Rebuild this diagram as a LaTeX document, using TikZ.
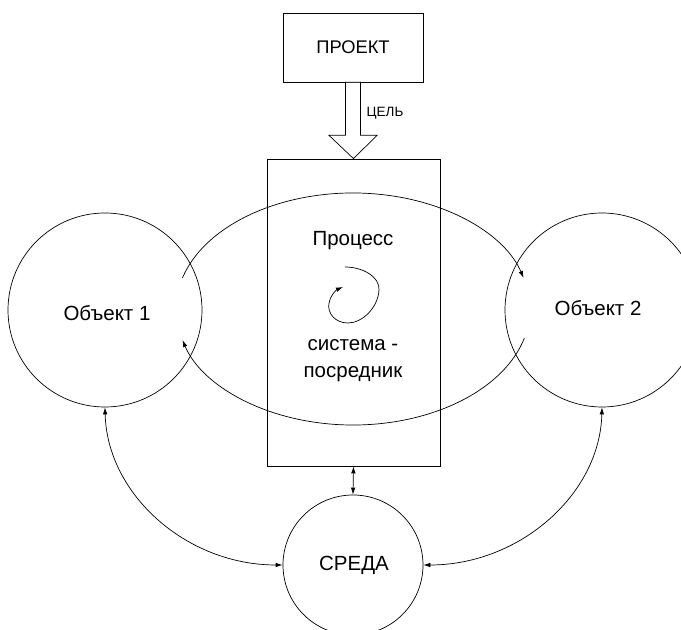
\documentclass[tikz,border=0pt]{standalone}
\usepackage{fontspec}
\setmainfont{Liberation Sans}
\usetikzlibrary{arrows.meta,calc}
\begin{document}
\begin{tikzpicture}[x=1pt,y=1pt,
  line width=0.7pt,
  tip/.style={-{Latex[length=7pt,width=4.5pt]}},
  dtip/.style={{Latex[length=7pt,width=4.5pt]}-{Latex[length=7pt,width=4.5pt]}},
  txt/.style={font=\fontsize{20.5}{27}\selectfont, align=center},
  circ/.style={draw, circle, inner sep=0pt}]
\useasboundingbox (0,0) rectangle (681,630);
\begin{scope}
\clip (0,0) rectangle (681,630);
% nodes
\node[draw, minimum width=140pt, minimum height=69pt, inner sep=0pt, font=\fontsize{18.3}{22}\selectfont] (proj) at (353,582.5) {ПРОЕКТ};
\node[draw, minimum width=173pt, minimum height=307pt, inner sep=0pt] (sys) at (353.5,317.5) {};
\node[circ, minimum size=194pt] (o1) at (105,320) {};
\node[circ, minimum size=194pt] (o2) at (602,320) {};
\node[circ, minimum size=140pt] (env) at (353,65) {};
\node[txt] (o1t) at (107,317) {Объект 1};
\node[txt] (o2t) at (598,322) {Объект 2};
\node[txt] (envt) at (354,65) {СРЕДА};
\node[txt] (proc) at (353,389) {Процесс};
\node[txt] (sp) at (353,269) {система -\\посредник};
\node[font=\fontsize{13.5}{16}\selectfont, anchor=west] (goal) at (363,517) {ЦЕЛЬ};
% hollow arrow
\draw[fill=white] ($(proj.south)+(-7.5,0)$) -- ($(proj.south)+(7.5,0)$) -- ($(proj.south)+(7.5,-53)$) -- ($(proj.south)+(24,-53)$) -- (sys.north) -- ($(proj.south)+(-24,-53)$) -- ($(proj.south)+(-7.5,-53)$) -- cycle;
% ellipse arcs
\coordinate (ec) at (353,321);
\draw[tip] ($(ec)+(164.5:177 and 116)$) arc[start angle=164.5, end angle=15.5, x radius=177, y radius=116];
\draw[tip] ($(ec)+(-14.5:177 and 116)$) arc[start angle=-14.5, end angle=-164.5, x radius=177, y radius=116];
% spiral
\coordinate (s0) at (345,363);
\coordinate (s1) at (343,343);
\draw[tip] (s0) .. controls (363,363) and (380,353) .. (379,340) .. controls (378,322) and (362,307) .. (348,307) .. controls (335,307) and (327,317) .. (329,327) .. controls (330,334) and (336,340) .. (s1);
% environment connectors
\draw[dtip] (sys.south) -- (env.north);
\draw[dtip] (o1.south) .. controls (107,136) and (186,65) .. (env.west);
\draw[dtip] (env.east) .. controls (520,65) and (600,136) .. (o2.south);
\end{scope}
\end{tikzpicture}
\end{document}
